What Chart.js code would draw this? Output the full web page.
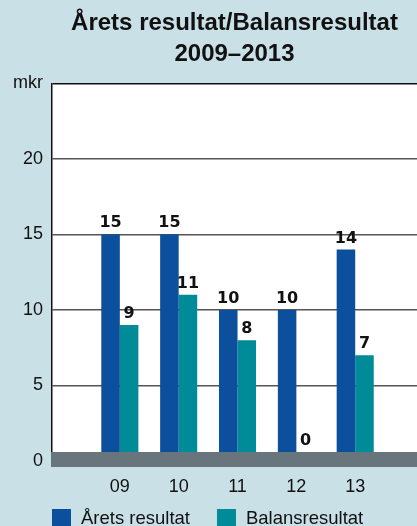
<!DOCTYPE html>
<html>
<head>
<meta charset="utf-8">
<script src="https://cdn.jsdelivr.net/npm/chart.js@4.4.1/dist/chart.umd.min.js"></script>
<style>
    html, body { margin: 0; padding: 0; background: #c8e0e6; }
    #wrap { width: 417px; height: 526px; position: relative; }
</style>
</head>
<body>
<div id="wrap"><canvas id="resultChart"></canvas></div>
<script>
// Data
const years = ['09', '10', '11', '12', '13'];
const aretsResultat = [15, 15, 10, 10, 14];
const balansResultat = [9, 11, 8, 0, 7];
const yTicks = [0, 5, 10, 15, 20];

const FONT = "'Liberation Sans', Arial, sans-serif";

// White plot background
const plotBackground = {
    id: 'plotBackground',
    beforeDraw(chart) {
        const { ctx, chartArea } = chart;
        ctx.save();
        ctx.fillStyle = '#ffffff';
        ctx.fillRect(chartArea.left, chartArea.top, chartArea.right - chartArea.left, chartArea.bottom - chartArea.top);
        ctx.restore();
    }
};

// Grey base band at zero + value labels
const baseAndLabels = {
    id: 'baseAndLabels',
    afterDatasetsDraw(chart) {
        const { ctx, chartArea, scales } = chart;
        const y0 = scales.y.getPixelForValue(0);
        ctx.save();
        ctx.fillStyle = '#68757c';
        ctx.fillRect(chartArea.left - 1, y0 - 9, chartArea.right - chartArea.left + 1, 15);

        ctx.fillStyle = '#111111';
        ctx.font = "bold 16px 'DejaVu Sans', sans-serif";
        ctx.textAlign = 'center';
        ctx.textBaseline = 'alphabetic';
        chart.data.datasets.forEach((ds, i) => {
            chart.getDatasetMeta(i).data.forEach((bar, j) => {
                const top = Math.min(bar.y, y0 - 9);
                ctx.fillText(String(ds.data[j].y), bar.x, top - 7);
            });
        });
        ctx.restore();
    }
};

// Legend row under the axis, left-aligned with the plot
const bottomLegend = {
    id: 'bottomLegend',
    afterDraw(chart) {
        const { ctx, chartArea } = chart;
        const top = chart.scales.x.bottom + 11;
        let x = chartArea.left;
        ctx.save();
        ctx.font = "18.5px " + FONT;
        ctx.textAlign = 'left';
        ctx.textBaseline = 'alphabetic';
        chart.data.datasets.forEach(ds => {
            ctx.fillStyle = ds.backgroundColor;
            ctx.fillRect(x, top, 19, 18);
            ctx.fillStyle = '#111111';
            ctx.fillText(ds.label, x + 29, top + 15);
            x += 29 + ctx.measureText(ds.label).width + 27;
        });
        ctx.restore();
    }
};

const ctx = document.getElementById('resultChart');
new Chart(ctx, {
    type: 'bar',
    data: {
        datasets: [{
            label: 'Årets resultat',
            data: aretsResultat.map((v, i) => ({ x: i, y: v })),
            backgroundColor: '#0b4f9d'
        }, {
            label: 'Balansresultat',
            data: balansResultat.map((v, i) => ({ x: i, y: v })),
            backgroundColor: '#008b99'
        }]
    },
    options: {
        responsive: true,
        maintainAspectRatio: false,
        animation: false,
        categoryPercentage: 0.63,
        barPercentage: 1,
        layout: {
            padding: { left: 4, right: 0, top: 6, bottom: 28 }
        },
        plugins: {
            title: {
                display: true,
                text: ['Årets resultat/Balansresultat', '2009–2013'],
                color: '#111111',
                font: { family: FONT, size: 24, weight: 'bold', lineHeight: 1.3 },
                padding: { top: 2, bottom: 13 },
                fullSize: false
            },
            legend: { display: false },
            tooltip: { enabled: false }
        },
        scales: {
            x: {
                type: 'linear',
                offset: false,
                min: -1.153,
                max: 5.05,
                grid: { display: false, offset: false, drawTicks: false },
                border: { display: false },
                afterBuildTicks(scale) {
                    scale.ticks = years.map((_, i) => ({ value: i }));
                },
                afterFit(scale) {
                    scale.height = 37;
                },
                ticks: {
                    padding: 15,
                    color: '#111111',
                    font: { family: FONT, size: 18 },
                    callback: (value) => years[value] ?? ''
                }
            },
            y: {
                min: 0,
                max: 25,
                afterBuildTicks(scale) {
                    scale.ticks = yTicks.concat([25]).map(v => ({ value: v }));
                },
                border: { display: true, color: '#111111', width: 1.5 },
                grid: {
                    drawTicks: false,
                    lineWidth: 1.5,
                    color: (c) => c.tick.value === 25 ? '#111111' : (c.tick.value === 0 ? 'rgba(0,0,0,0)' : '#555555')
                },
                ticks: {
                    padding: 9,
                    color: '#111111',
                    font: { family: FONT, size: 18 },
                    callback: (value) => value === 25 ? 'mkr' : String(value)
                }
            }
        }
    },
    plugins: [plotBackground, baseAndLabels, bottomLegend]
});
</script>
</body>
</html>
